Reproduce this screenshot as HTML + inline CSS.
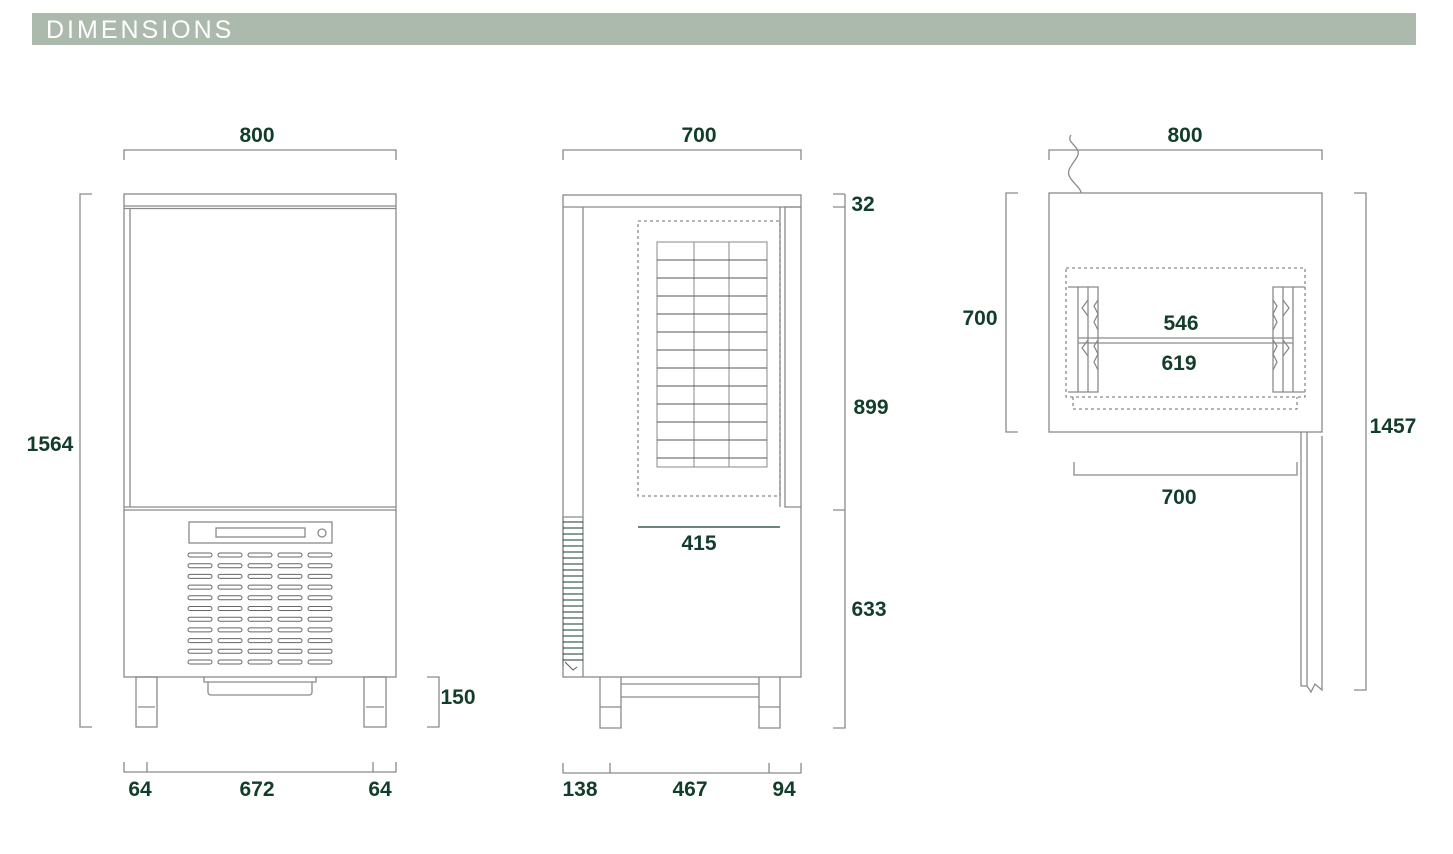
<!DOCTYPE html>
<html><head><meta charset="utf-8"><style>
body{margin:0;background:#fff;width:1453px;height:854px;overflow:hidden}
svg{display:block}
text{font-family:"Liberation Sans",sans-serif;font-size:21px;fill:#123d2b;text-anchor:middle;font-weight:bold}
</style></head><body>
<svg width="1453" height="854" viewBox="0 0 1453 854">
<defs>
<g id="vr" fill="none" stroke="#666" stroke-width="1"><rect x="188" y="553" width="24" height="4" rx="2"/><rect x="218" y="553" width="24" height="4" rx="2"/><rect x="248" y="553" width="24" height="4" rx="2"/><rect x="278" y="553" width="24" height="4" rx="2"/><rect x="308" y="553" width="24" height="4" rx="2"/></g>
</defs>
<rect x="32" y="13" width="1384" height="32" fill="#abbaad"/>
<text x="46" y="38" style="fill:#fff;text-anchor:start;font-weight:normal;font-size:25px;letter-spacing:3px">DIMENSIONS</text>

<g fill="none" stroke="#8a8a8a" stroke-width="1.3">
<rect x="124" y="194" width="272" height="483"/>
<line x1="124" y1="206" x2="396" y2="206"/><line x1="124" y1="208.5" x2="396" y2="208.5"/>
<line x1="130" y1="208" x2="130" y2="507"/>
<line x1="124" y1="507" x2="396" y2="507"/><line x1="124" y1="510" x2="396" y2="510"/>
<rect x="189" y="522" width="143" height="21"/>
<rect x="216" y="528" width="89" height="9"/>
<circle cx="322" cy="533" r="4"/>
<rect x="136" y="677" width="21" height="50"/><line x1="138" y1="707" x2="155" y2="707"/>
<rect x="364" y="677" width="22" height="50"/><line x1="366" y1="707" x2="384" y2="707"/>
<path d="M204 677v5h112v-5M208 682v10q0 3 3 3h98q3 0 3-3v-10"/>
<path d="M124 160v-10h272v10"/>
<path d="M92 194h-12v533h12"/>
<path d="M427 677h12v50h-12"/>
<path d="M124 762v10h272v-10M147 762v10M373 762v10"/>

<rect x="563" y="195" width="238" height="482"/>
<line x1="563" y1="207" x2="801" y2="207"/>
<line x1="583" y1="207" x2="583" y2="677"/>
<path d="M785 207h16M785 207v300h16M780 207v300"/>
<rect x="638" y="221" width="142" height="275" stroke-dasharray="3,3"/>
<rect x="657" y="242" width="110" height="225" stroke-width="1"/>
<path d="M694 242v225M729 242v225" stroke-width="1"/>
<path d="M638 527h142" stroke="#123d2b"/>
<path d="M563 517v150M563 517h20" />
<path d="M600 677v51h21v-51M759 677v51h21v-51M621 684h138M621 697h138M600 707h21M759 707h21"/>
<path d="M845 194h-12M845 194v534h-12M845 207h-12M845 510h-12"/>
<path d="M563 160v-10h238v10"/>
<path d="M563 763v10h238v-10M610 763v10M769 763v10"/>

<rect x="1049" y="193" width="273" height="239"/>
<path d="M1049 160v-10h273v10"/>
<path d="M1071 135c-6 8 12 12 6 22s-12 14-6 22 10 10 10 14"/>
<path d="M1018 193h-12v239h12"/>
<path d="M1354 193h12v497h-12"/>
<rect x="1066" y="268" width="239" height="129" stroke-dasharray="3,3"/>
<path d="M1073 397v12h224v-12" stroke-dasharray="3,3"/>
<path d="M1078 287h20v105h-20zM1088 287v105M1068 287h10M1068 392h10"/>
<path d="M1098 300l-4 6 4 8-4 8 4 8M1098 340l-4 6 4 8-4 8 4 8M1088 300l-6 8 6 8M1088 340l-6 8 6 8"/>
<path d="M1273 287h20v105h-20zM1283 287v105M1293 287h12M1293 392h12"/>
<path d="M1273 300l4 6-4 8 4 8-4 8M1273 340l4 6-4 8 4 8-4 8M1283 300l6 8-6 8M1283 340l6 8-6 8"/>
<path d="M1078 338h215M1078 343h215"/>
<path d="M1074 462v13h223v-13"/>
<path d="M1301 432v254h6v-254M1307 686l4 6 4-8 7 6v-254"/>
</g>
<g fill="none" stroke="#555" stroke-width="1">
<path d="M657 260h110M657 278h110M657 296h110M657 314h110M657 332h110M657 350h110M657 368h110M657 386h110M657 404h110M657 422h110M657 440h110M657 458h110"/>
<path d="M563 522h20M563 528h20M563 534h20M563 540h20M563 546h20M563 552h20M563 558h20M563 564h20M563 570h20M563 576h20M563 582h20M563 588h20M563 594h20M563 600h20M563 606h20M563 612h20M563 618h20M563 624h20M563 630h20M563 636h20M563 642h20M563 648h20M563 654h20M563 660h20" stroke="#123d2b"/>
<path d="M565 662l8 8 4-3"/>
</g>
<use href="#vr"/>
<use href="#vr" y="10.7"/>
<use href="#vr" y="21.4"/>
<use href="#vr" y="32.1"/>
<use href="#vr" y="42.8"/>
<use href="#vr" y="53.5"/>
<use href="#vr" y="64.2"/>
<use href="#vr" y="74.9"/>
<use href="#vr" y="85.6"/>
<use href="#vr" y="96.3"/>
<use href="#vr" y="107"/>

<text x="257" y="142">800</text>
<text x="50" y="451">1564</text>
<text x="458" y="704">150</text>
<text x="140" y="796">64</text>
<text x="257" y="796">672</text>
<text x="380" y="796">64</text>
<text x="699" y="142">700</text>
<text x="863" y="211">32</text>
<text x="871" y="414">899</text>
<text x="869" y="616">633</text>
<text x="699" y="550">415</text>
<text x="580" y="796">138</text>
<text x="690" y="796">467</text>
<text x="784" y="796">94</text>
<text x="1185" y="142">800</text>
<text x="980" y="325">700</text>
<text x="1393" y="433">1457</text>
<text x="1181" y="330">546</text>
<text x="1179" y="370">619</text>
<text x="1179" y="504">700</text>
</svg>
</body></html>
